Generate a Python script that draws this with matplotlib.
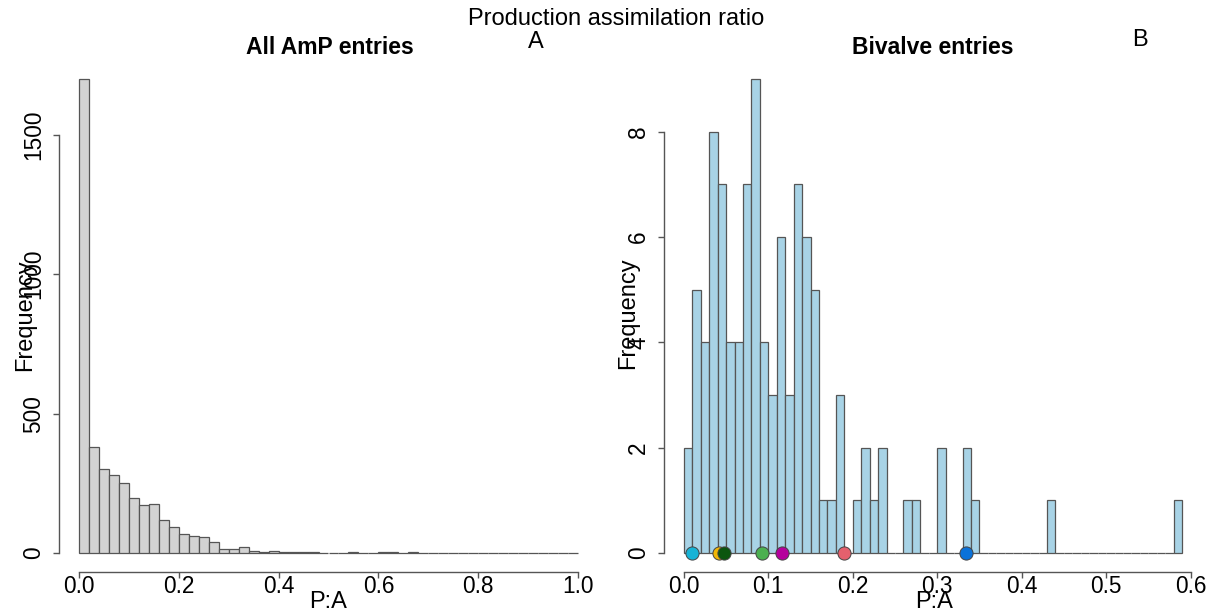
import numpy as np
import matplotlib
matplotlib.use("Agg")
import matplotlib.pyplot as plt

plt.rcParams['font.family'] = ['Liberation Sans', 'DejaVu Sans']

# ---- data ----
all_bin_width = 0.02
all_counts = [1700, 379, 303, 279, 251, 198, 174, 177, 118, 92,
              68, 62, 56, 40, 15, 15, 21, 7, 5, 8,
              4, 4, 4, 3, 0, 1, 1, 3, 1, 1,
              3, 3, 0, 3, 0, 1, 0, 1, 1, 1,
              1, 1, 0, 0, 0, 0, 0, 0, 1, 1]

biv_bin_width = 0.01
biv_counts = [2, 5, 4, 8, 7, 4, 4, 7, 9, 4,
              3, 6, 3, 7, 6, 5, 1, 1, 3, 0,
              1, 2, 1, 2, 0, 0, 1, 1, 0, 0,
              2, 0, 0, 2, 1, 0, 0, 0, 0, 0,
              0, 0, 0, 1, 0, 0, 0, 0, 0, 0,
              0, 0, 0, 0, 0, 0, 0, 0, 1]

sel_values = [0.009, 0.0415, 0.0474, 0.092, 0.116, 0.189, 0.3345]
sel_colors = ['#17B3D6', '#F2B705', '#0B560F', '#4CB050', '#B5009C', '#E4606D', '#0A72DA']

left_xticks = [0.0, 0.2, 0.4, 0.6, 0.8, 1.0]
left_yticks = [0, 500, 1000, 1500]
right_xticks = [0.0, 0.1, 0.2, 0.3, 0.4, 0.5, 0.6]
right_yticks = [0, 2, 4, 6, 8]

W, H = 1212, 613
fig = plt.figure(figsize=(W / 100, H / 100), dpi=100)

def fx(px):
    return px / W

def fy(py):
    return 1 - py / H

axL = fig.add_axes([fx(59), fy(572), fx(598) - fx(59), fy(60) - fy(572)])
axR = fig.add_axes([fx(664), fy(572), fx(1202) - fx(664), fy(60) - fy(572)])

edge = '#555555'
spine_col = '#555555'
tick_fs = 16.3

def style(ax, xticks, yticks, xb, yb):
    for s in ['top', 'right']:
        ax.spines[s].set_visible(False)
    for s in ['left', 'bottom']:
        ax.spines[s].set_color(spine_col)
        ax.spines[s].set_linewidth(1.0)
    ax.spines['bottom'].set_bounds(*xb)
    ax.spines['left'].set_bounds(*yb)
    ax.set_xticks(xticks)
    ax.set_xticklabels([f"{t:.1f}" for t in xticks])
    ax.set_yticks(yticks)
    ax.set_yticklabels([str(t) for t in yticks], rotation=90, va='center')
    ax.tick_params(axis='x', length=4, width=1.0, color=spine_col, pad=-1.5,
                   labelsize=tick_fs, direction='out')
    ax.tick_params(axis='y', length=4, width=1.0, color=spine_col, pad=6,
                   labelsize=tick_fs, direction='out')

# Left histogram
edgesL = np.arange(len(all_counts)) * all_bin_width
axL.bar(edgesL, all_counts, width=all_bin_width, align='edge',
        color='#D3D3D3', edgecolor=edge, linewidth=0.9)
axL.set_xlim(-0.04, 1.04)
axL.set_ylim(-0.04 * 1700, 1700 * 1.04)
style(axL, left_xticks, left_yticks, (0, 1), (0, 1500))

# Right histogram
edgesR = np.arange(len(biv_counts)) * biv_bin_width
axR.bar(edgesR, biv_counts, width=biv_bin_width, align='edge',
        color='#A8D3E6', edgecolor=edge, linewidth=0.9)
xr = len(biv_counts) * biv_bin_width
axR.set_xlim(-0.04 * xr, xr * 1.04)
axR.set_ylim(-0.36, 9.36)
style(axR, right_xticks, right_yticks, (0, 0.6), (0, 8))
for v, c in zip(sel_values, sel_colors):
    axR.scatter([v], [0], s=90, color=c, edgecolor='#444444', linewidth=0.7,
                zorder=5, clip_on=False)

# Texts
fig.text(fx(616), fy(19), 'Production assimilation ratio', ha='center', va='center', fontsize=17)
fig.text(fx(536), fy(42), 'A', ha='center', va='center', fontsize=17)
fig.text(fx(1140), fy(40), 'B', ha='center', va='center', fontsize=17)
fig.text(fx(330), fy(47), 'All AmP entries', ha='center', va='center', fontsize=16.5, fontweight='bold')
fig.text(fx(933), fy(48), 'Bivalve entries', ha='center', va='center', fontsize=16.5, fontweight='bold')
fig.text(fx(25), fy(315), 'Frequency', ha='center', va='center', rotation=90, fontsize=17)
fig.text(fx(628), fy(313), 'Frequency', ha='center', va='center', rotation=90, fontsize=17)
fig.text(fx(328), fy(602), 'P:A', ha='center', va='center', fontsize=17)
fig.text(fx(934), fy(602), 'P:A', ha='center', va='center', fontsize=17)

fig.savefig('out.png', dpi=100)
